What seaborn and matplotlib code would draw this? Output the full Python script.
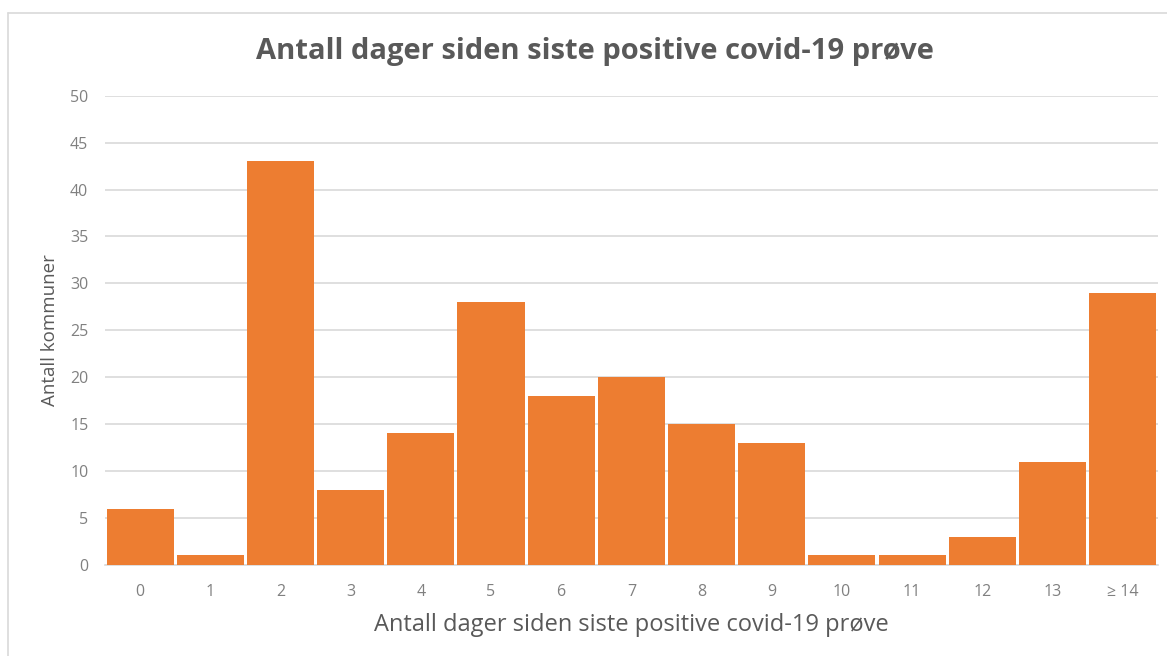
import matplotlib
matplotlib.use("Agg")
import matplotlib.pyplot as plt
import seaborn as sns
import pandas as pd

# Number of municipalities by days since the last positive covid-19 test
categories = ["0", "1", "2", "3", "4", "5", "6", "7", "8", "9", "10", "11", "12", "13", "≥ 14"]
counts = [6, 1, 43, 8, 14, 28, 18, 20, 15, 13, 1, 1, 3, 11, 29]

title_text = "Antall dager siden siste positive covid-19 prøve"
x_label = "Antall dager siden siste positive covid-19 prøve"
y_label = "Antall kommuner"

df = pd.DataFrame({"dager": categories, "kommuner": counts})

sns.set_theme(style="white")
plt.rcParams["font.family"] = ["Open Sans", "DejaVu Sans"]

text_grey = "#595959"
tick_grey = "#808080"
bar_orange = "#ED7D31"

fig = plt.figure(figsize=(11.67, 6.56), dpi=100)
ax = fig.add_axes([0.090, 0.139, 0.902, 0.715])

sns.barplot(data=df, x="dager", y="kommuner", color=bar_orange, saturation=1,
            width=0.955, edgecolor="none", ax=ax, zorder=3)

ax.set_ylim(0, 50)
ax.set_xlim(-0.5, len(categories) - 0.5)
ax.set_yticks(range(0, 51, 5))
ax.yaxis.grid(True, color="#D9D9D9", linewidth=1.2, zorder=0)
ax.set_axisbelow(True)
for side in ["top", "right", "left"]:
    ax.spines[side].set_visible(False)
ax.spines["bottom"].set_color("#D9D9D9")
ax.spines["bottom"].set_linewidth(1.2)

ax.tick_params(axis="both", length=0, labelsize=11.5, labelcolor=tick_grey)
ax.tick_params(axis="x", pad=14)
ax.tick_params(axis="y", pad=12)

ax.set_xlabel(x_label, fontsize=17, color=text_grey, labelpad=9)
ax.set_ylabel(y_label, fontsize=13.5, color=text_grey, labelpad=8)

fig.text(0.51, 0.921, title_text, ha="center", va="center",
         fontsize=21, fontweight="bold", color=text_grey)

# thin frame along the top and left edge of the chart area
fig.add_artist(plt.Line2D([0.007, 1.0], [0.980, 0.980], transform=fig.transFigure,
                          color="#D9D9D9", linewidth=1.2))
fig.add_artist(plt.Line2D([0.007, 0.007], [0.0, 0.980], transform=fig.transFigure,
                          color="#D9D9D9", linewidth=1.2))

fig.savefig("out.png", dpi=100, facecolor="white")
